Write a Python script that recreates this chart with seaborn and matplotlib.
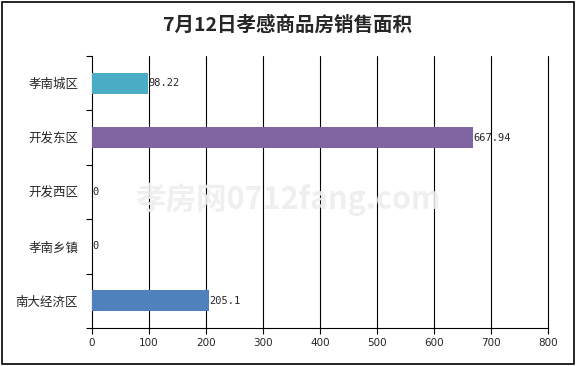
import matplotlib
matplotlib.use("Agg")
import matplotlib.pyplot as plt
import seaborn as sns
import pandas as pd
import numpy as np
from matplotlib.patches import Rectangle

categories = ["孝南城区", "开发东区", "开发西区", "孝南乡镇", "南大经济区"]
values = [98.22, 667.94, 0, 0, 205.1]
value_labels = ["98.22", "667.94", "0", "0", "205.1"]
colors = ["#4BACC6", "#8064A2", "#8064A2", "#8064A2", "#4F81BD"]
xticks = [0, 100, 200, 300, 400, 500, 600, 700, 800]
title = "7月12日孝感商品房销售面积"

sns.set_theme(style="white")
plt.rcParams['font.family'] = ['Noto Sans CJK SC', 'DejaVu Sans']

df = pd.DataFrame({"cat": categories, "val": values})

fig = plt.figure(figsize=(5.76, 3.66), dpi=100)
ax = fig.add_axes([92/576, 1-328/366, (548-92)/576, (328-56)/366])

sns.barplot(data=df, x="val", y="cat", hue="cat", palette=colors, legend=False,
            orient="h", width=0.39, ax=ax, saturation=1, zorder=3, linewidth=0)

ax.set_xlim(0, 800)
ax.set_ylim(4.5, -0.5)
ax.set_xticks(xticks)
ax.set_xticklabels([str(t) for t in xticks], fontsize=7.5, family=['DejaVu Sans'])
ax.set_yticks(range(len(categories)))
ax.set_yticklabels(categories, fontsize=9)
ax.set_yticks(np.arange(-0.5, len(categories), 1), minor=True)
ax.tick_params(axis='y', which='major', length=0, pad=10)
ax.tick_params(axis='y', which='minor', length=4, width=0.8, color='black', direction='out', left=True)
ax.tick_params(axis='x', which='major', length=4, width=0.8, color='black', direction='out', bottom=True, pad=3)
ax.set_xlabel("")
ax.set_ylabel("")
ax.grid(False)
for t in xticks[1:]:
    ax.axvline(t, color='black', lw=0.8, zorder=1, clip_on=False)
for s in ['top', 'right']:
    ax.spines[s].set_visible(False)
for s in ['left', 'bottom']:
    ax.spines[s].set_visible(True)
    ax.spines[s].set_color('black')
    ax.spines[s].set_linewidth(0.8)

for i, (v, lab) in enumerate(zip(values, value_labels)):
    ax.text(v + 1, i, lab, ha='left', va='center', fontsize=7.5, family=['DejaVu Sans Mono'], zorder=5)

# watermark
fig.text(0.5, 0.455, "孝房网0712fang.com", ha='center', va='center', fontsize=22,
         color='#EEEEEE', alpha=0.9, zorder=0, fontweight='bold')

fig.text(0.5, 1-25/366, title, ha='center', va='center', fontsize=14, fontweight='bold')

fig.patches.append(Rectangle((2/576, 2/366), 572/576, 362/366, transform=fig.transFigure,
                             fill=False, edgecolor='black', lw=1.2))

fig.savefig("out.png", dpi=100)
